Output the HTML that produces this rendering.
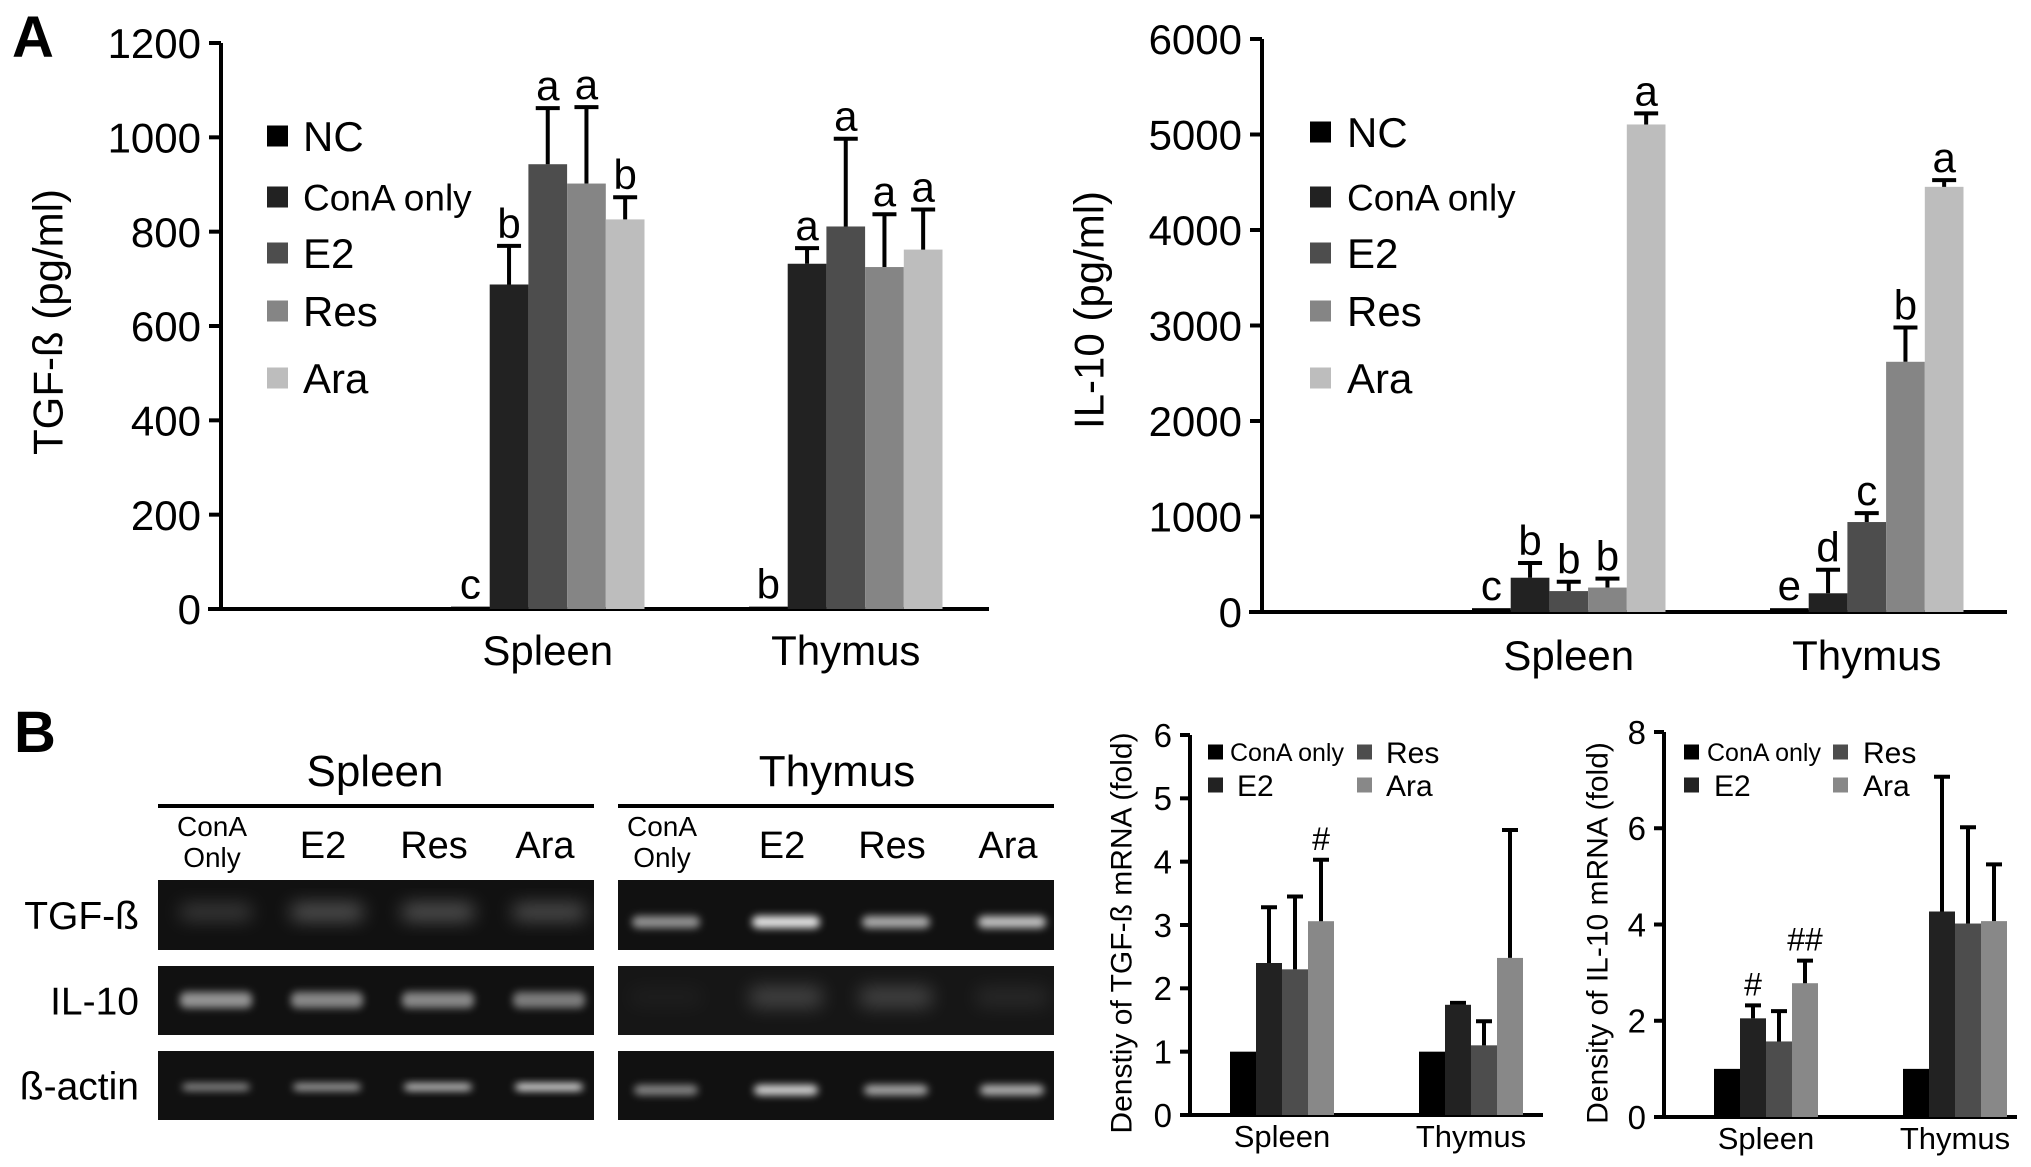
<!DOCTYPE html>
<html><head><meta charset="utf-8"><style>
html,body{margin:0;padding:0;background:#fff;}
svg{display:block;font-family:"Liberation Sans",Arial,sans-serif;}
</style></head><body>
<svg id="fig" width="2031" height="1167" viewBox="0 0 2031 1167">
<defs>
<filter id="blur" x="-50%" y="-100%" width="200%" height="300%"><feGaussianBlur stdDeviation="4"/></filter>
<filter id="blurw" x="-50%" y="-100%" width="200%" height="300%"><feGaussianBlur stdDeviation="9"/></filter>
</defs>
<text x="12" y="57" font-size="58" font-weight="bold">A</text>
<text x="14" y="752" font-size="58" font-weight="bold">B</text>
</svg>
<script>
// ---------- data ----------
const groups = ["Spleen", "Thymus"];
const seriesA = ["NC", "ConA only", "E2", "Res", "Ara"];
const tgfVals = [[5, 688, 943, 902, 826], [5, 732, 811, 725, 762]];
const tgfErr = [[5, 770, 1062, 1064, 873], [5, 765, 997, 837, 847]];
const tgfLetters = [["c", "b", "a", "a", "b"], ["b", "a", "a", "a", "a"]];
const tgfTicks = [0, 200, 400, 600, 800, 1000, 1200];
const il10Vals = [[40, 359, 219, 256, 5105], [40, 196, 942, 2620, 4452]];
const il10Err = [[40, 513, 317, 350, 5221], [40, 443, 1035, 2979, 4522]];
const il10Letters = [["c", "b", "b", "b", "a"], ["e", "d", "c", "b", "a"]];
const il10Ticks = [0, 1000, 2000, 3000, 4000, 5000, 6000];
const seriesB = ["ConA only", "E2", "Res", "Ara"];
const tgfMVals = [[1.0, 2.4, 2.3, 3.06], [1.0, 1.74, 1.1, 2.48]];
const tgfMErr = [[1.0, 3.28, 3.45, 4.03], [1.0, 1.77, 1.48, 4.5]];
const tgfMMarks = [["", "", "", "#"], ["", "", "", ""]];
const tgfMTicks = [0, 1, 2, 3, 4, 5, 6];
const il10MVals = [[1.0, 2.05, 1.57, 2.78], [1.0, 4.27, 4.02, 4.07]];
const il10MErr = [[1.0, 2.32, 2.2, 3.25], [1.0, 7.07, 6.02, 5.25]];
const il10MMarks = [["", "#", "", "##"], ["", "", "", ""]];
const il10MTicks = [0, 2, 4, 6, 8];
// gel band intensities (0-1): [spleen lanes, thymus lanes]
const gelRows = ["TGF-ß", "IL-10", "ß-actin"];
const gelLanes = ["ConA Only", "E2", "Res", "Ara"];
const bandTGF = [[0.18, 0.3, 0.3, 0.28], [0.55, 0.9, 0.65, 0.75]];
const bandIL10 = [[0.55, 0.5, 0.5, 0.45], [0.03, 0.2, 0.2, 0.08]];
const bandActin = [[0.55, 0.65, 0.8, 0.95], [0.5, 0.85, 0.65, 0.7]];

const NS = "http://www.w3.org/2000/svg";
const svg = document.getElementById("fig");
function mk(tag, attrs, parent, text) {
  const e = document.createElementNS(NS, tag);
  for (const k in attrs) e.setAttribute(k, attrs[k]);
  if (text !== undefined) e.textContent = text;
  (parent || svg).appendChild(e);
  return e;
}

function barChart(o) {
  const g = mk("g", {});
  
  
  const y = v => o.y0 - (v - o.ticks[0]) / (o.ticks[o.ticks.length - 1] - o.ticks[0]) * (o.y0 - o.yTop);
  // axes
  const ya = mk("line", {x1: o.ax, y1: o.yTop, x2: o.ax, y2: o.y0, stroke: "#000", "stroke-width": o.sw}, g);
  
  
  const xa = mk("line", {x1: o.xStart, y1: o.y0, x2: o.xEnd, y2: o.y0, stroke: "#000", "stroke-width": o.sw}, g);
  
  
  o.ticks.forEach(t => {
    const tk = mk("line", {x1: o.ax - o.tickLen, y1: y(t), x2: o.ax, y2: y(t), stroke: "#000", "stroke-width": o.sw}, g);
    
    
    const tl = mk("text", {x: o.ax - o.tickLen - 8, y: y(t) + o.tickFont * 0.36, "font-size": o.tickFont, "text-anchor": "end"}, g, String(t));
    
    
  });
  const tt = mk("text", {x: o.titleX, y: o.titleY, "font-size": o.titleFont, "text-anchor": "middle", "dominant-baseline": "central", transform: `rotate(-90 ${o.titleX} ${o.titleY})`}, g, o.title);
  
  
  o.groups.forEach((gn, gi) => {
    const gx = o.groupX[gi];
    o.vals[gi].forEach((v, si) => {
      const x = gx + si * o.bw;
      const r = mk("rect", {x: x, y: y(v), width: o.bw, height: o.y0 - y(v), fill: o.colors[si]}, g);
      
      
      const e = o.err[gi][si];
      const cx = x + o.bw / 2;
      let topY = y(v);
      if (e > v + 1e-9 && (e - v) / (o.ticks[o.ticks.length-1]) > 0.004) {
        const eb = mk("path", {d: `M${cx} ${y(v)}V${y(e)}M${cx - o.cap / 2} ${y(e)}H${cx + o.cap / 2}`, stroke: "#000", "stroke-width": o.esw, fill: "none"}, g);
        
        
        topY = y(e);
      }
      const lab = o.labels[gi][si];
      if (lab) {
        const lt = mk("text", {x: cx, y: topY - o.labelGap, "font-size": o.labelFont, "text-anchor": "middle"}, g, lab);
        
        
      }
    });
    const xl = mk("text", {x: gx + o.bw * o.series.length / 2 + o.catShift, y: o.catY, "font-size": o.catFont, "text-anchor": "middle"}, g, gn);
    
    
  });
  // legend
  o.series.forEach((s, si) => {
    const p = o.legendPos[si];
    const sq = mk("rect", {x: p[0], y: p[1] - o.legSq / 2, width: o.legSq, height: o.legSq, fill: o.colors[si]}, g);
    
    
    const lt = mk("text", {x: p[2], y: p[1] + p[3] * 0.36, "font-size": p[3]}, g, s);
    
    
  });
}

const colA = ["#000", "#222", "#4d4d4d", "#858585", "#bdbdbd"];
barChart({name: "tgf-beta-chart", ax: 221, yTop: 43, y0: 609, xStart: 208, xEnd: 989, ticks: tgfTicks, tickLen: 12, tickFont: 42, sw: 4, esw: 4,
  title: "TGF-ß (pg/ml)", titleX: 48, titleY: 322, titleFont: 42, groups: groups, groupX: [451, 749], bw: 38.7, series: seriesA, colors: colA,
  vals: tgfVals, err: tgfErr, labels: tgfLetters, cap: 24, labelGap: 8, labelFont: 42, catY: 665, catFont: 42, catShift: 0,
  legSq: 21, legendPos: [[267, 136, 303, 42], [267, 197, 303, 37], [267, 253, 303, 42], [267, 311, 303, 42], [267, 378, 303, 42]]});
barChart({name: "il10-chart", ax: 1262, yTop: 39, y0: 612, xStart: 1249, xEnd: 2007, ticks: il10Ticks, tickLen: 12, tickFont: 42, sw: 4, esw: 4,
  title: "IL-10 (pg/ml)", titleX: 1089, titleY: 310, titleFont: 42, groups: groups, groupX: [1472, 1770], bw: 38.7, series: seriesA, colors: colA,
  vals: il10Vals, err: il10Err, labels: il10Letters, cap: 24, labelGap: 8, labelFont: 42, catY: 670, catFont: 42, catShift: 0,
  legSq: 21, legendPos: [[1310, 132, 1347, 42], [1310, 197, 1347, 37], [1310, 253, 1347, 42], [1310, 311, 1347, 42], [1310, 378, 1347, 42]]});
const colB = ["#000", "#222", "#4d4d4d", "#888"];
barChart({name: "tgf-beta-mrna-chart", ax: 1190, yTop: 735, y0: 1115, xStart: 1180, xEnd: 1543, ticks: tgfMTicks, tickLen: 10, tickFont: 33, sw: 4, esw: 4,
  title: "Denstiy of TGF-ß mRNA (fold)", titleX: 1122, titleY: 933, titleFont: 30, groups: groups, groupX: [1230, 1419], bw: 26, series: seriesB, colors: colB,
  vals: tgfMVals, err: tgfMErr, labels: tgfMMarks, cap: 16, labelGap: 10, labelFont: 32, catY: 1147, catFont: 31, catShift: 0,
  legSq: 15, legendPos: [[1208, 752, 1230, 25], [1208, 785, 1237, 30], [1357, 752, 1386, 30], [1357, 785, 1386, 30]]});
barChart({name: "il10-mrna-chart", ax: 1664, yTop: 732, y0: 1117, xStart: 1655, xEnd: 2017, ticks: il10MTicks, tickLen: 10, tickFont: 33, sw: 4, esw: 4,
  title: "Density of IL-10 mRNA (fold)", titleX: 1598, titleY: 933, titleFont: 30, groups: groups, groupX: [1714, 1903], bw: 26, series: seriesB, colors: colB,
  vals: il10MVals, err: il10MErr, labels: il10MMarks, cap: 16, labelGap: 10, labelFont: 32, catY: 1149, catFont: 31, catShift: 0,
  legSq: 15, legendPos: [[1684, 752, 1707, 25], [1684, 785, 1714, 30], [1833, 752, 1863, 30], [1833, 785, 1863, 30]]});

// ---------- gels ----------
const gelX = [[158, 594], [618, 1054]];
const laneX = [[212, 323, 434, 545], [662, 782, 892, 1008]];
const rowY = [[880, 950], [966, 1035], [1051, 1120]];
const bandData = [bandTGF, bandIL10, bandActin];
const bandOff = [[32, 42], [34, 31], [36, 39]];
const bandH = [[16, 12], [16, 20], [7, 10]];
const bandW = [[72, 68], [72, 72], [68, 64]];
const headers = ["Spleen", "Thymus"];
const headerX = [375, 837];
headers.forEach((h, hi) => {
  const t = mk("text", {x: headerX[hi], y: 786, "font-size": 44, "text-anchor": "middle"}, svg, h);
  
  
  const l = mk("line", {x1: gelX[hi][0], y1: 806, x2: gelX[hi][1], y2: 806, stroke: "#000", "stroke-width": 4});
  
  
  gelLanes.forEach((ln, li) => {
    const x = laneX[hi][li];
    if (li === 0) {
      const a = mk("text", {x: x, y: 836, "font-size": 28, "text-anchor": "middle"}, svg, "ConA");
      
      
      const b = mk("text", {x: x, y: 867, "font-size": 28, "text-anchor": "middle"}, svg, "Only");
      
      
    } else {
      const a = mk("text", {x: x, y: 858, "font-size": 38, "text-anchor": "middle"}, svg, ln);
      
      
    }
  });
  gelRows.forEach((rn, ri) => {
    const r = mk("rect", {x: gelX[hi][0], y: rowY[ri][0], width: gelX[hi][1] - gelX[hi][0], height: rowY[ri][1] - rowY[ri][0], fill: ri === 1 && hi === 1 ? "#161616" : "#111"});
    
    
    bandData[ri][hi].forEach((v, li) => {
      const w = bandW[ri][hi], bh = bandH[ri][hi];
      const cy = rowY[ri][0] + bandOff[ri][hi];
      const soft = (ri === 1 && hi === 1) || (ri === 0 && hi === 0);
      const b = mk("rect", {x: laneX[hi][li] - w / 2 + 4, y: cy - bh / 2, width: w, height: bh, rx: 6, fill: "#fff", opacity: v, filter: soft ? "url(#blurw)" : "url(#blur)"});
      
      
    });
  });
});
gelRows.forEach((rn, ri) => {
  const t = mk("text", {x: 139, y: (rowY[ri][0] + rowY[ri][1]) / 2 + 14, "font-size": 39, "text-anchor": "end"}, svg, rn);
  
  
});
</script>
</body></html>
